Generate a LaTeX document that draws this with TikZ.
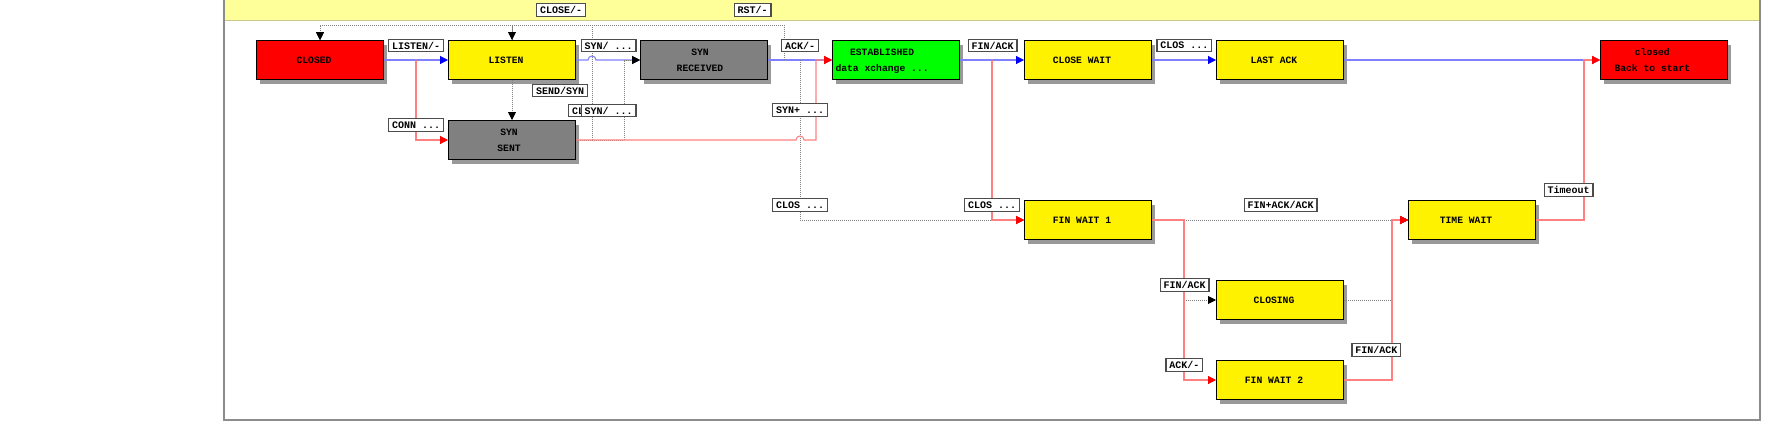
\documentclass[tikz,border=0pt]{standalone}
\usepackage{fontspec}
\setmonofont{Liberation Mono}
\usetikzlibrary{arrows.meta,shadows}
\definecolor{bandyellow}{RGB}{255,255,153}
\definecolor{bandline}{RGB}{200,200,140}
\definecolor{lblue}{RGB}{128,128,255}
\definecolor{lred}{RGB}{255,128,128}
\definecolor{dotgray}{RGB}{128,128,128}
\definecolor{stgray}{RGB}{128,128,128}
\definecolor{framegray}{RGB}{140,140,140}
\tikzset{
 stbox/.style={draw=black, line width=1pt, minimum width=127pt, minimum height=39pt, inner sep=0pt,
   font=\ttfamily\bfseries\fontsize{9.7}{16}\selectfont, align=center,
   drop shadow={shadow xshift=3pt, shadow yshift=-4pt, fill=black, opacity=0.4}},
 lbl/.style={fill=white, draw=black!70, line width=1.2pt, inner xsep=3.4pt, inner ysep=0pt,
   minimum height=12.3pt, font=\ttfamily\bfseries\fontsize{10}{12}\selectfont},
 bl/.style={draw=lblue, line width=1.1pt, -{Triangle[length=8pt,width=8pt,color=blue]}},
 rd/.style={draw=lred, line width=1.1pt, -{Triangle[length=8pt,width=8pt,color=red]}},
 dt/.style={draw=dotgray, line width=0.9pt, dash pattern=on 1pt off 1pt, -{Triangle[length=8pt,width=8pt,color=black]}},
}
\begin{document}
\begin{tikzpicture}[x=1pt,y=-1pt]
\useasboundingbox (0,0) rectangle (1792,440);
% frame and band
\fill[bandyellow] (224,-2) rectangle (1760,20);
\draw[bandline, line width=1pt] (224,20) -- (1760,20);
\draw[framegray, line width=1.2pt] (224,-3) rectangle (1760,420);

% states
\node[stbox, fill=red] (closedA) at (320,60) {CLOSED\kern12pt};
\node[stbox, fill=yellow] (listen) at (512,60) {LISTEN\kern12pt};
\node[stbox, fill=stgray] (synsent) at (512,140) {SYN\kern6pt\\SENT\kern6pt};
\node[stbox, fill=stgray] (synrcvd) at (704,60) {SYN\kern8pt\\RECEIVED\kern8pt};
\node[stbox, fill=green] (estab) at (896,60) {\makebox[121pt][l]{\begin{tabular}{@{}c@{}}ESTABLISHED\\data xchange ...\end{tabular}}};
\node[stbox, fill=yellow] (closewait) at (1088,60) {CLOSE WAIT\kern12pt};
\node[stbox, fill=yellow] (lastack) at (1280,60) {LAST ACK\kern12pt};
\node[stbox, fill=red] (closedB) at (1664,60) {\makebox[121pt][l]{\hspace{11pt}\begin{tabular}{@{}c@{}}closed\\Back to start\end{tabular}}};
\node[stbox, fill=yellow] (finwait1) at (1088,220) {FIN WAIT 1\kern12pt};
\node[stbox, fill=yellow] (timewait) at (1472,220) {TIME WAIT\kern12pt};
\node[stbox, fill=yellow] (closing) at (1280,300) {CLOSING\kern12pt};
\node[stbox, fill=yellow] (finwait2) at (1280,380) {FIN WAIT 2\kern12pt};

% blue connectors
\draw[bl] (closedA.east) -- (listen.west);
\draw[bl] (listen.east) -- (588,60) .. controls (588,54.7) and (596,54.7) .. (596,60) -- (synrcvd.west);
\draw[bl] (synrcvd.east) -- (estab.west);
\draw[bl] (estab.east) -- (closewait.west);
\draw[bl] (closewait.east) -- (lastack.west);
\draw[bl] (lastack.east) -- (closedB.west);

% dotted connectors
\draw[dt] (listen.north) -- (512,25) -| (closedA.north);
\draw[dt] (synsent.east) -- (592,140) -- (592,25) -| (closedA.north);
\draw[dt] (synrcvd.east) ++(16,0) -- (784,25) -| (listen.north);
\draw[dt] (listen.south) -- (synsent.north);
\draw[dt] (synsent.east) -- (624,140) |- (synrcvd.west);
\draw[dt] (synrcvd.east) ++(32,0) -- (800,220) -- (finwait1.west);
\draw[dt] (finwait1.east) -- (timewait.west);
\draw[dt] (finwait1.east) -- (1184,220) |- (closing.west);
\draw[dt] (closing.east) -- (1392,300) |- (timewait.west);

% red connectors
\draw[rd] (closedA.east) ++(32,0) |- (synsent.west);
\draw[rd] (synsent.east) -- (796,140) .. controls (796,134.7) and (804,134.7) .. (804,140) -- (816,140) -- (816,60) -- (estab.west);
\draw[rd] (estab.east) ++(32,0) -- (992,220) -- (finwait1.west);
\draw[rd] (finwait1.east) -- (1184,220) |- (finwait2.west);
\draw[rd] (finwait2.east) -- (1392,380) |- (timewait.west);
\draw[rd] (timewait.east) -- (1584,220) |- (closedB.west);

% labels
\node[lbl] (l1) at (416,45.5) {LISTEN/-};
\node[lbl] (l2) at (416,125) {CONN ...};
\node[lbl] (l3) at (560,90.5) {SEND/SYN};
\node[lbl] (l4) at (608.5,45.5) {SYN/ ...};
\node[lbl] (l5) at (561,10) {CLOSE/-};
\node[lbl] (l6) at (593,110.5) {CLOSE/-};
\node[lbl] (l7) at (608.5,110.5) {SYN/ ...};
\node[lbl] (l8) at (752.5,10) {RST/-};
\node[lbl] (l9) at (800,45.5) {ACK/-};
\node[lbl] (l10) at (800,110) {SYN+ ...};
\node[lbl] (l11) at (800,205) {CLOS ...};
\node[lbl] (l12) at (992,205) {CLOS ...};
\node[lbl] (l13) at (992.5,45.5) {FIN/ACK};
\node[lbl] (l14) at (1184.3,45.5) {CLOS ...};
\node[lbl] (l15) at (1280.5,205) {FIN+ACK/ACK};
\node[lbl] (l16) at (1568.5,190) {Timeout};
\node[lbl] (l17) at (1184.5,285) {FIN/ACK};
\node[lbl] (l18) at (1184.3,365) {ACK/-};
\node[lbl] (l19) at (1376.3,350) {FIN/ACK};
\end{tikzpicture}
\end{document}
